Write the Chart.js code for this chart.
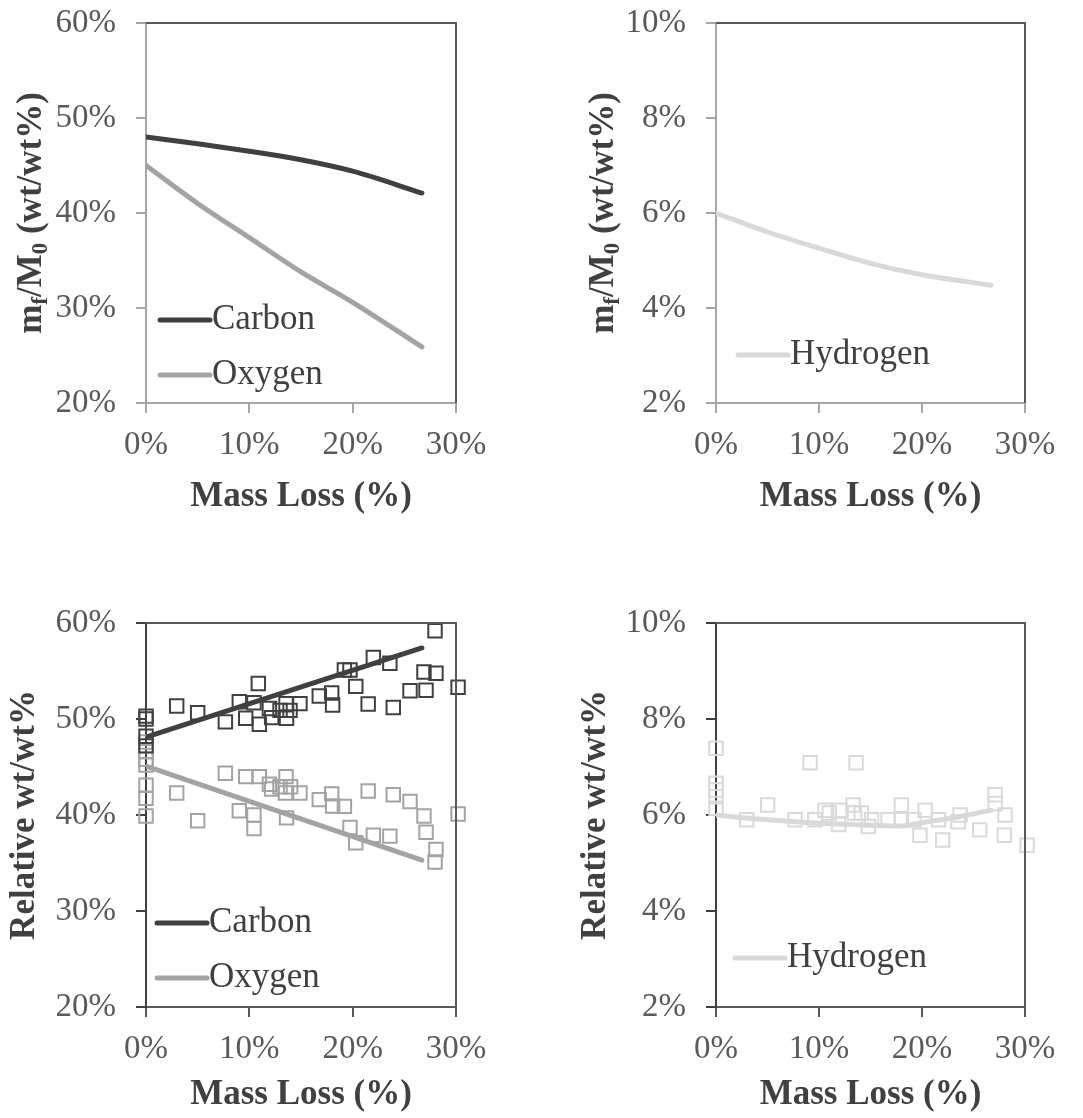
<!DOCTYPE html>
<html>
<head>
<meta charset="utf-8">
<script src="https://cdn.jsdelivr.net/npm/chart.js@4.4.0/dist/chart.umd.min.js"></script>
<style>
body { margin: 0; background: #fff; width: 1083px; height: 1118px; position: relative; overflow: hidden; }
canvas { position: absolute; }
</style>
</head>
<body>
<canvas id="mfCO" width="540" height="540" style="left:0;top:0;width:540px;height:540px"></canvas>
<canvas id="mfH" width="543" height="540" style="left:540px;top:0;width:543px;height:540px"></canvas>
<canvas id="relCO" width="540" height="518" style="left:0;top:600px;width:540px;height:518px"></canvas>
<canvas id="relH" width="543" height="518" style="left:540px;top:600px;width:543px;height:518px"></canvas>
<script>
// mass remaining curves (top row)
const massLoss = [0, 5, 10, 15, 20, 26.7];
const carbonMf = [48.0, 47.3, 46.5, 45.6, 44.4, 42.1];
const oxygenMf = [45.0, 41.0, 37.4, 33.8, 30.6, 25.9];
const hydrogenMf = [6.0, 5.6, 5.26, 4.94, 4.7, 4.48];

// trend lines (bottom row)
const trendX = [0, 26.7];
const carbonTrend = [48.1, 57.4];
const oxygenTrend = [45.1, 35.3];
const hydrogenTrendX = [0, 5, 10, 15, 18, 20, 24, 26.7];
const hydrogenTrend = [6.0, 5.9, 5.83, 5.79, 5.77, 5.84, 5.98, 6.1];

// measured samples (bottom row)
const carbonX = [0, 0, 0, 0, 2.97, 5.0, 7.68, 9.03, 9.65, 10.45, 10.87, 10.97, 11.94, 12.16, 12.97, 13.55, 13.6, 13.94, 14.9, 16.77, 17.97, 18.06, 19.2, 19.74, 20.3, 21.5, 22.0, 23.6, 23.93, 25.55, 26.9, 27.1, 27.97, 28.06, 30.2];
const carbonY = [50.3, 50.0, 48.2, 47.2, 51.35, 50.66, 49.7, 51.8, 50.07, 51.7, 53.7, 49.45, 51.1, 50.14, 50.9, 51.6, 50.07, 50.9, 51.6, 52.4, 52.7, 51.46, 55.1, 55.1, 53.4, 51.56, 56.4, 55.8, 51.2, 52.95, 54.9, 53.0, 59.2, 54.76, 53.3];
const oxygenX = [0, 0, 0, 0, 0, 0, 0, 2.97, 5.0, 7.68, 9.03, 9.65, 10.45, 10.45, 10.97, 11.94, 12.16, 12.97, 13.55, 13.5, 13.6, 14.0, 14.9, 16.77, 17.97, 18.06, 19.2, 19.74, 20.3, 21.5, 22.0, 23.6, 23.93, 25.55, 26.9, 27.1, 28.06, 27.97, 30.2];
const oxygenY = [47.6, 46.6, 45.8, 45.2, 43.1, 41.74, 39.9, 42.3, 39.4, 44.34, 40.45, 44.0, 40.0, 38.6, 44.0, 43.2, 42.7, 42.95, 44.0, 42.3, 39.7, 42.95, 42.3, 41.6, 42.2, 40.94, 40.9, 38.7, 37.1, 42.5, 37.9, 37.8, 42.1, 41.4, 39.9, 38.2, 36.4, 35.1, 40.1];
const hydrogenX = [0, 0, 0, 0, 0, 2.98, 5.02, 7.67, 9.13, 9.6, 10.58, 11.0, 11.9, 12.04, 13.3, 13.45, 13.6, 14.1, 14.8, 15.1, 16.7, 18.0, 18.0, 19.2, 19.8, 20.3, 21.6, 22.0, 23.5, 23.7, 25.6, 27.1, 27.1, 28.06, 28.0, 30.2];
const hydrogenY = [7.39, 6.66, 6.52, 6.38, 6.14, 5.9, 6.21, 5.9, 7.09, 5.9, 6.1, 6.04, 5.8, 6.1, 6.21, 6.04, 7.09, 6.04, 5.76, 5.9, 5.9, 6.21, 5.9, 5.9, 5.58, 6.1, 5.9, 5.48, 5.86, 6.0, 5.69, 6.42, 6.24, 6.0, 5.58, 5.37];

const serif = "'Liberation Serif', 'Times New Roman', serif";
const tickColor = '#595959';
const titleColor = '#404040';
const carbonColor = '#404040';
const oxygenColor = '#a3a3a3';
const hydrogenColor = '#d9d9d9';

function pts(xs, ys) {
    return xs.map((x, i) => ({x: x, y: ys[i]}));
}

function curve(label, xs, ys, color) {
    return {
        type: 'line', label: label, legend: true,
        data: pts(xs, ys),
        borderColor: color, borderWidth: 5,
        borderCapStyle: 'round', borderJoinStyle: 'round',
        cubicInterpolationMode: 'monotone',
        pointRadius: 0, fill: false
    };
}

function squares(xs, ys, color) {
    return {
        type: 'scatter',
        data: pts(xs, ys),
        pointStyle: 'rect', pointRadius: 9.5,
        borderColor: color, borderWidth: 2,
        backgroundColor: 'rgba(0,0,0,0)',
        clip: false
    };
}

// legend drawn inside the plot area
function legendPlugin(x0, y0, gap) {
    return {
        id: 'inLegend',
        afterDraw(chart) {
            const ctx = chart.ctx;
            const items = chart.data.datasets.filter(d => d.legend);
            ctx.save();
            ctx.font = '35px ' + serif;
            ctx.textBaseline = 'middle';
            items.forEach((d, i) => {
                const y = y0 + i * gap;
                ctx.strokeStyle = d.borderColor;
                ctx.lineWidth = 5;
                ctx.lineCap = 'round';
                ctx.beginPath();
                ctx.moveTo(x0, y);
                ctx.lineTo(x0 + 50, y);
                ctx.stroke();
                ctx.fillStyle = titleColor;
                ctx.fillText(d.label, x0 + 52, y);
            });
            ctx.restore();
        }
    };
}

// top and right border of the plot area
const framePlugin = {
    id: 'frame',
    afterDatasetsDraw(chart) {
        const a = chart.chartArea, ctx = chart.ctx;
        ctx.save();
        ctx.strokeStyle = '#595959';
        ctx.lineWidth = 2;
        ctx.beginPath();
        ctx.moveTo(a.left, a.top);
        ctx.lineTo(a.right, a.top);
        ctx.lineTo(a.right, a.bottom);
        ctx.stroke();
        ctx.restore();
    }
};

// y title with subscripts: m_f/M_0 (wt/wt%)
function subTitlePlugin(cx) {
    const parts = [
        {text: 'm', size: 35, dy: 0},
        {text: 'f', size: 23, dy: 9},
        {text: '/M', size: 35, dy: 0},
        {text: '0', size: 23, dy: 9},
        {text: ' (wt/wt%)', size: 35, dy: 0}
    ];
    return {
        id: 'subTitle',
        afterDraw(chart) {
            const ctx = chart.ctx, a = chart.chartArea;
            ctx.save();
            ctx.translate(cx, (a.top + a.bottom) / 2);
            ctx.rotate(-Math.PI / 2);
            ctx.fillStyle = titleColor;
            ctx.textBaseline = 'middle';
            let total = 0;
            parts.forEach(p => {
                ctx.font = 'bold ' + p.size + 'px ' + serif;
                p.w = ctx.measureText(p.text).width;
                total += p.w;
            });
            let x = -total / 2;
            parts.forEach(p => {
                ctx.font = 'bold ' + p.size + 'px ' + serif;
                ctx.fillText(p.text, x, p.dy);
                x += p.w;
            });
            ctx.restore();
        }
    };
}

function makeChart(id, cfg) {
    new Chart(document.getElementById(id), {
        type: 'scatter',
        data: {datasets: cfg.datasets},
        options: {
            responsive: false,
            animation: false,
            events: [],
            layout: {padding: {top: 23, right: cfg.padRight, left: 0, bottom: 0}},
            plugins: {legend: {display: false}, tooltip: {enabled: false}},
            scales: {
                x: {
                    type: 'linear', min: 0, max: 30,
                    afterFit(s) {
                        s.height = cfg.xHeight;
                        s.paddingLeft = 0;
                        s.paddingRight = 0;
                    },
                    ticks: {
                        stepSize: 10, padding: 13, maxRotation: 0,
                        color: tickColor, font: {family: serif, size: 33},
                        callback: v => v + '%'
                    },
                    grid: {drawOnChartArea: false, drawTicks: true, tickLength: 10, color: cfg.xColor, lineWidth: 2},
                    border: {color: cfg.xColor, width: 2},
                    title: {
                        display: true, text: 'Mass Loss (%)', color: titleColor,
                        font: {family: serif, size: 35, weight: 'bold'},
                        padding: {top: 0, bottom: cfg.xTitlePad}
                    }
                },
                y: {
                    type: 'linear', min: cfg.yMin, max: cfg.yMax,
                    afterFit(s) {
                        s.width = cfg.yWidth;
                        s.paddingTop = 0;
                        s.paddingBottom = 0;
                    },
                    ticks: {
                        stepSize: cfg.yStep, padding: 20,
                        color: tickColor, font: {family: serif, size: 33},
                        callback: v => v + '%'
                    },
                    grid: {drawOnChartArea: false, drawTicks: true, tickLength: 10, color: cfg.yColor, lineWidth: 2},
                    border: {color: cfg.yColor, width: 2},
                    title: {
                        display: !!cfg.yTitle, text: cfg.yTitle || '', color: titleColor,
                        font: {family: serif, size: 35, weight: 'bold'},
                        padding: {top: cfg.yTitlePad || 0, bottom: 0}
                    }
                }
            }
        },
        plugins: cfg.plugins
    });
}

makeChart('mfCO', {
    datasets: [
        curve('Carbon', massLoss, carbonMf, carbonColor),
        curve('Oxygen', massLoss, oxygenMf, oxygenColor)
    ],
    yMin: 20, yMax: 60, yStep: 10,
    yWidth: 146, padRight: 84, xHeight: 137, xTitlePad: 22,
    xColor: '#a6a6a6', yColor: '#a6a6a6',
    plugins: [framePlugin, legendPlugin(160, 320, 55), subTitlePlugin(32)]
});

makeChart('mfH', {
    datasets: [
        curve('Hydrogen', massLoss, hydrogenMf, hydrogenColor)
    ],
    yMin: 2, yMax: 10, yStep: 2,
    yWidth: 176, padRight: 58, xHeight: 137, xTitlePad: 22,
    xColor: '#a6a6a6', yColor: '#a6a6a6',
    plugins: [framePlugin, legendPlugin(198, 355, 55), subTitlePlugin(64)]
});

makeChart('relCO', {
    datasets: [
        curve('Carbon', trendX, carbonTrend, carbonColor),
        curve('Oxygen', trendX, oxygenTrend, oxygenColor),
        squares(carbonX, carbonY, carbonColor),
        squares(oxygenX, oxygenY, oxygenColor)
    ],
    yMin: 20, yMax: 60, yStep: 10,
    yWidth: 146, padRight: 84, xHeight: 111, xTitlePad: 2,
    xColor: '#595959', yColor: '#404040',
    yTitle: 'Relative wt/wt%', yTitlePad: 4,
    plugins: [framePlugin, legendPlugin(157, 323, 55)]
});

makeChart('relH', {
    datasets: [
        curve('Hydrogen', hydrogenTrendX, hydrogenTrend, hydrogenColor),
        squares(hydrogenX, hydrogenY, hydrogenColor)
    ],
    yMin: 2, yMax: 10, yStep: 2,
    yWidth: 176, padRight: 58, xHeight: 111, xTitlePad: 2,
    xColor: '#595959', yColor: '#404040',
    yTitle: 'Relative wt/wt%', yTitlePad: 35,
    plugins: [framePlugin, legendPlugin(195, 358, 55)]
});
</script>
</body>
</html>
